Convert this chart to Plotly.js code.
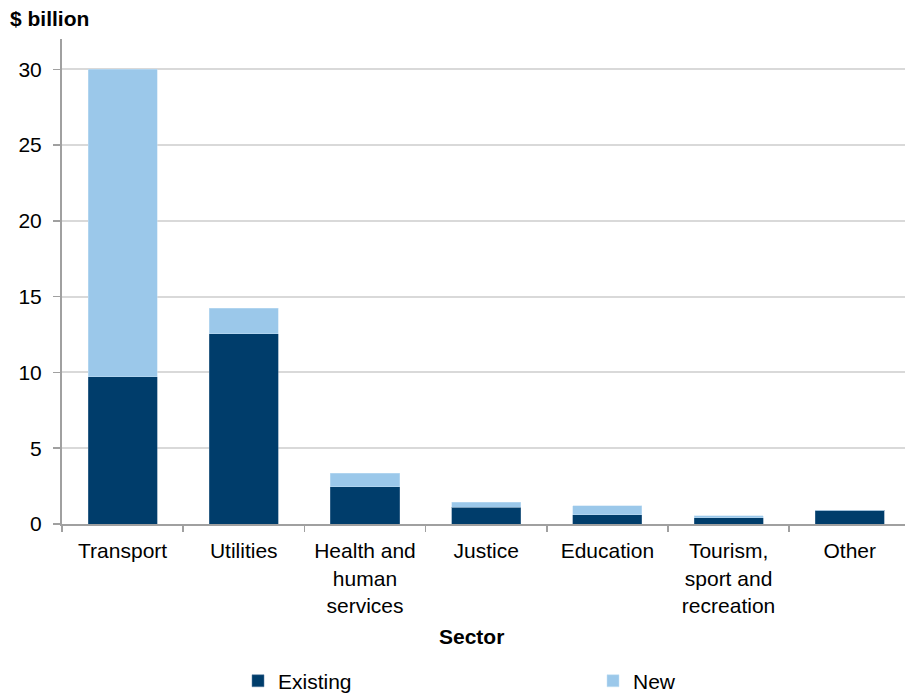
<!DOCTYPE html>
<html>
<head>
<meta charset="utf-8">
<script src="https://cdn.plot.ly/plotly-3.0.1.min.js"></script>
<style>html,body{margin:0;padding:0;background:#fff;}#chart{width:905px;height:695px;}</style>
</head>
<body>
<div id="chart"></div>
<script>
var categories = ["Transport", "Utilities", "Health and<br>human<br>services", "Justice", "Education", "Tourism,<br>sport and<br>recreation", "Other"];
var existing = [9.7, 12.55, 2.45, 1.1, 0.6, 0.4, 0.92];
var newVals = [20.3, 1.7, 0.9, 0.35, 0.6, 0.15, 0];
var yTicks = [0, 5, 10, 15, 20, 25, 30];

var font = "Liberation Sans, Arial, sans-serif";
var traces = [
  {type: "bar", name: "Existing", x: categories, y: existing,
   marker: {color: "#003d6b", line: {color: "#5a7fa0", width: 0.5}}, width: 0.57},
  {type: "bar", name: "New", x: categories, y: newVals,
   marker: {color: "#9bc8ea", line: {color: "#c5e0f4", width: 0.5}}, width: 0.57}
];

var layout = {
  width: 905, height: 695,
  barmode: "stack",
  margin: {l: 62, r: 0, t: 39, b: 171, autoexpand: false},
  paper_bgcolor: "#fff", plot_bgcolor: "#fff",
  font: {family: font, size: 20, color: "#000"},
  showlegend: true,
  xaxis: {
    type: "category",
    range: [-0.5, 6.456],
    showline: true, linecolor: "#a0a0a0", linewidth: 2,
    ticks: "outside", tickson: "boundaries", ticklen: 6, tickcolor: "#a0a0a0", tickwidth: 1.5,
    tickfont: {size: 21, family: font, color: "#000"},
    ticklabelstandoff: 7,
    showgrid: false, fixedrange: true, automargin: false
  },
  yaxis: {
    range: [0, 32],
    tickvals: yTicks,
    ticktext: yTicks.map(String),
    showline: true, linecolor: "#a0a0a0", linewidth: 2,
    ticks: "outside", ticklen: 7, tickcolor: "#a0a0a0", tickwidth: 1.5,
    tickfont: {size: 21, family: font, color: "#000"},
    ticklabelstandoff: 7,
    showgrid: true, gridcolor: "#d9d9d9", gridwidth: 2,
    zeroline: false, fixedrange: true, automargin: false
  },
  legend: {
    orientation: "h",
    xref: "container", yref: "container",
    x: 0.263, xanchor: "left",
    y: 0.02, yanchor: "middle",
    entrywidth: 310, entrywidthmode: "pixels",
    font: {size: 21, family: font, color: "#000"},
    traceorder: "normal"
  },
  annotations: [
    {text: "<b>$ billion</b>", xref: "paper", yref: "paper", x: -0.064, y: 1.043,
     xanchor: "left", yanchor: "middle", showarrow: false, font: {size: 21, family: font, color: "#000"}},
    {text: "<b>Sector</b>", xref: "paper", yref: "paper", x: 0.486, y: -0.231,
     xanchor: "center", yanchor: "middle", showarrow: false, font: {size: 21, family: font, color: "#000"}}
  ]
};

Plotly.newPlot("chart", traces, layout, {displayModeBar: false, staticPlot: true});
</script>
</body>
</html>
